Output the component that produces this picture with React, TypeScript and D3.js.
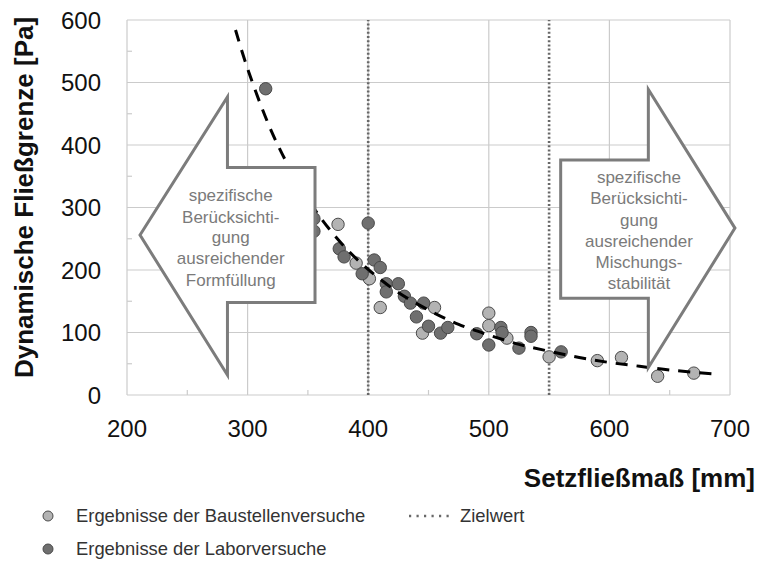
import React from "react";
import * as d3 from "d3";

// Baustellenversuche (site tests)
const siteFlow = [375, 390, 401, 410, 445, 455, 500, 500, 515, 550, 590, 610, 640, 670];
const siteYield = [273, 211, 186, 140, 99, 140, 131, 111, 91, 61, 55, 60, 30, 35];

// Laborversuche (lab tests)
const labFlow = [315, 355, 355, 376, 380, 395, 400, 405, 410, 415, 415, 425, 430, 435, 440, 446, 450, 460, 466, 490, 500, 510, 511, 525, 535, 535, 560];
const labYield = [490, 282, 262, 234, 221, 194, 275, 216, 204, 178, 165, 178, 158, 147, 125, 147, 110, 99, 108, 98, 80, 108, 100, 75, 100, 94, 69];

// Trend curve through the data
const trendFlow = [290, 300, 320, 340, 360, 380, 400, 425, 450, 475, 500, 525, 550, 575, 600, 625, 650, 685];
const trendYield = [584, 522, 421, 345, 285, 238, 201, 164, 136, 113, 96, 81, 70, 60, 52, 46, 40, 34];

// Target values (Zielwert)
const targets = [400, 550];

const xTicks = [200, 300, 400, 500, 600, 700];
const yTicks = [0, 100, 200, 300, 400, 500, 600];
const xMinor = [250, 350, 450, 550, 650];
const yMinor = [50, 150, 250, 350, 450, 550];

// Annotation arrows, in data units
const leftArrowX = [210.8, 283.3, 283.3, 355.9, 355.9, 283.3, 283.3];
const leftArrowY = [256, 477, 364, 364, 148, 148, 32];
const rightArrowX = [559.6, 632.3, 632.3, 704.1, 632.3, 632.3, 559.6];
const rightArrowY = [376, 376, 489, 267, 44, 155, 155];
const leftText = ["spezifische", "Berücksichti-", "gung", "ausreichender", "Formfüllung"];
const rightText = ["spezifische", "Berücksichti-", "gung", "ausreichender", "Mischungs-", "stabilität"];

const W = 759;
const H = 561;
const FONT = "'Liberation Sans', Arial, Helvetica, sans-serif";

export default function App() {
  const x = d3.scaleLinear().domain([200, 700]).range([127, 730]);
  const y = d3.scaleLinear().domain([0, 600]).range([395, 20]);

  const trendLine = d3
    .line<number>()
    .x((_, i) => x(trendFlow[i]))
    .y((_, i) => y(trendYield[i]))
    .curve(d3.curveCatmullRom)(trendFlow);

  const arrowPath = (xs: number[], ys: number[]) =>
    d3.line<number>().x((_, i) => x(xs[i])).y((_, i) => y(ys[i]))(xs) + "Z";

  const gridColor = "#cbcbcb";
  const lightFill = "#b3b3b3";
  const darkFill = "#6f6f6f";
  const markStroke = "#4a4a4a";
  const arrowColor = "#7c7c7c";
  const arrowTextColor = "#7a7a7a";
  const targetColor = "#686868";

  const leftCx = x(286);
  const leftLineY = [195, 216.5, 237, 258, 279.5];
  const rightCx = x(624.5);
  const rightLineY = [177, 198, 219.5, 241, 262, 283];

  return (
    <svg
      width={W}
      height={H}
      style={{ position: "absolute", left: 0, top: 0, background: "#fff" }}
      fontFamily={FONT}
    >
      {/* grid */}
      {xTicks.map((t) => (
        <line key={"gx" + t} x1={x(t)} x2={x(t)} y1={y(0)} y2={y(600)} stroke={gridColor} strokeWidth={1.2} />
      ))}
      {yTicks.map((t) => (
        <line key={"gy" + t} x1={x(200)} x2={x(700)} y1={y(t)} y2={y(t)} stroke={gridColor} strokeWidth={1.2} />
      ))}
      {xMinor.map((t) => (
        <line key={"mx" + t} x1={x(t)} x2={x(t)} y1={y(0)} y2={y(0) - 5} stroke={gridColor} strokeWidth={1.2} />
      ))}
      {yMinor.map((t) => (
        <line key={"my" + t} x1={x(200)} x2={x(200) + 5} y1={y(t)} y2={y(t)} stroke={gridColor} strokeWidth={1.2} />
      ))}

      {/* target lines */}
      {targets.map((t) => (
        <line
          key={"t" + t}
          x1={x(t)}
          x2={x(t)}
          y1={y(0)}
          y2={y(600)}
          stroke={targetColor}
          strokeWidth={2.6}
          strokeDasharray="2 2.2"
        />
      ))}

      {/* data points */}
      {siteFlow.map((v, i) => (
        <circle key={"s" + i} cx={x(v)} cy={y(siteYield[i])} r={6.2} fill={lightFill} stroke={markStroke} strokeWidth={1} />
      ))}
      {labFlow.map((v, i) => (
        <circle key={"l" + i} cx={x(v)} cy={y(labYield[i])} r={6.2} fill={darkFill} stroke={markStroke} strokeWidth={1} />
      ))}

      {/* trend */}
      <path d={trendLine ?? ""} fill="none" stroke="#000" strokeWidth={3} strokeDasharray="12 9" />

      {/* annotation arrows */}
      <path d={arrowPath(leftArrowX, leftArrowY)} fill="#fff" stroke={arrowColor} strokeWidth={3} strokeLinejoin="miter" />
      <path d={arrowPath(rightArrowX, rightArrowY)} fill="#fff" stroke={arrowColor} strokeWidth={3} strokeLinejoin="miter" />
      {leftText.map((s, i) => (
        <text key={"lt" + i} x={leftCx} y={leftLineY[i] + 6} textAnchor="middle" fontSize={17} fill={arrowTextColor}>
          {s}
        </text>
      ))}
      {rightText.map((s, i) => (
        <text key={"rt" + i} x={rightCx} y={rightLineY[i] + 6} textAnchor="middle" fontSize={17} fill={arrowTextColor}>
          {s}
        </text>
      ))}

      {/* tick labels */}
      {yTicks.map((t) => (
        <text key={"yl" + t} x={101} y={y(t) + 8.5} textAnchor="end" fontSize={24} fill="#111">
          {t}
        </text>
      ))}
      {xTicks.map((t) => (
        <text key={"xl" + t} x={x(t)} y={437} textAnchor="middle" fontSize={24} fill="#111">
          {t}
        </text>
      ))}

      {/* axis titles */}
      <text x={755} y={487} textAnchor="end" fontSize={26} fontWeight="bold" fill="#111">
        Setzfließmaß [mm]
      </text>
      <text
        transform={`translate(33, ${(20 + 395) / 2 - 10}) rotate(-90)`}
        textAnchor="middle"
        fontSize={26}
        fontWeight="bold"
        fill="#111"
      >
        Dynamische Fließgrenze [Pa]
      </text>

      {/* legend */}
      <circle cx={48} cy={516} r={5} fill={lightFill} stroke={markStroke} strokeWidth={1} />
      <text x={76} y={522} fontSize={18.4} fill="#333">
        Ergebnisse der Baustellenversuche
      </text>
      <circle cx={48} cy={549} r={5} fill={darkFill} stroke={markStroke} strokeWidth={1} />
      <text x={76} y={555} fontSize={18.4} fill="#333">
        Ergebnisse der Laborversuche
      </text>
      <line x1={409} x2={454} y1={516} y2={516} stroke={targetColor} strokeWidth={2.4} strokeDasharray="2.2 5.3" />
      <text x={460} y={522} fontSize={18.4} fill="#333">
        Zielwert
      </text>
    </svg>
  );
}
